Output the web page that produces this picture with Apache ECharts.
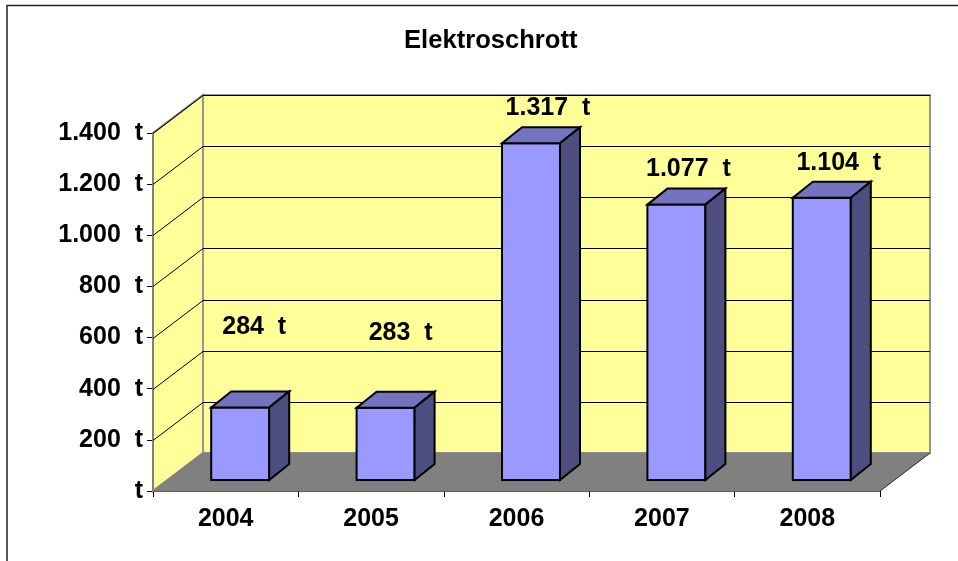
<!DOCTYPE html>
<html>
<head>
<meta charset="utf-8">
<style>
  html, body { margin: 0; padding: 0; background: #fff; }
  #chart { width: 958px; height: 561px; }
</style>
<script src="https://cdn.jsdelivr.net/npm/echarts@6/dist/echarts.min.js"></script>
</head>
<body>
<div id="chart"></div>
<script>
const years = ["2004", "2005", "2006", "2007", "2008"];
const tonnes = [284, 283, 1317, 1077, 1104];
const yTicks = [0, 200, 400, 600, 800, 1000, 1200, 1400];

// pseudo-3d offsets, px
const WALL_DX = 50, WALL_DY = -38;
const BAR_DX = 14.5, BAR_DY = -11;
const BAR_DEPTH_X = 20, BAR_DEPTH_Y = -16;
const BAR_WIDTH = 58;
// the data labels were placed by hand in the original
const LABEL_SHIFT = [[14, -80], [15, -75], [17, -35], [12, -35], [17, -35]];

const FONT = '"Liberation Sans", Arial, sans-serif';
const LABEL_SIZE = 25;

const fmt = (v) => String(v).replace(/\B(?=(\d{3})+$)/g, ".");
const withUnit = (v) => (v === 0 ? "t" : fmt(v) + "  t");

const poly = (points, fill, stroke, lineWidth) => ({
  type: "polygon",
  shape: { points },
  style: { fill, stroke, lineWidth }
});

function renderWalls(params) {
  const cs = params.coordSys;
  const l = cs.x, r = cs.x + cs.width, t = cs.y, b = cs.y + cs.height;
  const dx = WALL_DX, dy = WALL_DY;
  return {
    type: "group",
    children: [
      poly([[l, b], [l + dx, b + dy], [l + dx, t + dy], [l, t]], "#FFFF99", "#808080", 2),
      poly([[l + dx, b + dy], [r + dx, b + dy], [r + dx, t + dy], [l + dx, t + dy]], "#FFFF99", "#969696", 2),
      poly([[l, b], [r, b], [r + dx, b + dy], [l + dx, b + dy]], "#808080", "#808080", 1),
      { type: "line", shape: { x1: r, y1: b, x2: r + dx, y2: b + dy }, style: { stroke: "#333", lineWidth: 1 } }
    ]
  };
}

function renderGridLine(params, api) {
  const cs = params.coordSys;
  const y = Math.round(api.coord([0, api.value(0)])[1]) + 0.5;
  return {
    type: "polyline",
    shape: {
      points: [
        [cs.x, y],
        [cs.x + WALL_DX, y + WALL_DY],
        [cs.x + cs.width + WALL_DX, y + WALL_DY]
      ]
    },
    style: { fill: null, stroke: "#000", lineWidth: 1 }
  };
}

function renderBar(params, api) {
  const i = api.value(0);
  const top = api.coord([i, api.value(1)]);
  const base = api.coord([i, 0]);
  const x0 = top[0] - BAR_WIDTH / 2 + BAR_DX;
  const x1 = x0 + BAR_WIDTH;
  const y0 = top[1] + BAR_DY;
  const y1 = base[1] + BAR_DY;
  const ddx = BAR_DEPTH_X, ddy = BAR_DEPTH_Y;
  const shift = LABEL_SHIFT[params.dataIndex];
  return {
    type: "group",
    children: [
      poly([[x0, y1], [x1, y1], [x1, y0], [x0, y0]], "#9999FF", "#000", 2),
      poly([[x0, y0], [x1, y0], [x1 + ddx, y0 + ddy], [x0 + ddx, y0 + ddy]], "#7373BF", "#000", 2),
      poly([[x1, y1], [x1 + ddx, y1 + ddy], [x1 + ddx, y0 + ddy], [x1, y0]], "#4D4D80", "#000", 2),
      {
        type: "text",
        x: (x0 + x1) / 2 + shift[0],
        y: y0 + shift[1],
        style: {
          text: withUnit(api.value(1)),
          font: "bold " + LABEL_SIZE + "px " + FONT,
          fill: "#000",
          align: "center",
          verticalAlign: "middle"
        }
      }
    ]
  };
}

const chart = echarts.init(document.getElementById("chart"), null, { renderer: "canvas" });

chart.setOption({
  animation: false,
  backgroundColor: "#fff",
  title: {
    text: "Elektroschrott",
    left: 399,
    top: 23,
    textStyle: { fontFamily: FONT, fontWeight: "bold", fontSize: 25.6, color: "#000" }
  },
  graphic: [
    // only the left and top edges of the chart frame are inside the picture
    {
      type: "rect",
      silent: true,
      z: -1,
      shape: { x: 7, y: 5.5, width: 1000, height: 600 },
      style: { fill: "#fff", stroke: "#222", lineWidth: 1.5 }
    }
  ],
  grid: { left: 153, right: 78, top: 133, bottom: 70 },
  xAxis: {
    type: "category",
    data: years,
    boundaryGap: true,
    axisLine: { show: true, lineStyle: { color: "#000", width: 1.5 } },
    axisTick: { show: true, length: 6, lineStyle: { color: "#000" } },
    axisLabel: {
      color: "#000",
      fontFamily: FONT,
      fontWeight: "bold",
      fontSize: LABEL_SIZE,
      margin: 16
    }
  },
  yAxis: {
    type: "value",
    min: yTicks[0],
    max: yTicks[yTicks.length - 1],
    interval: yTicks[1] - yTicks[0],
    splitLine: { show: false },
    axisLine: { show: true, lineStyle: { color: "#666", width: 2 } },
    axisTick: { show: true, length: 6, lineStyle: { color: "#000" } },
    axisLabel: {
      color: "#000",
      fontFamily: FONT,
      fontWeight: "bold",
      fontSize: LABEL_SIZE,
      margin: 10,
      padding: [2, 0, 0, 0],
      formatter: withUnit
    }
  },
  series: [
    {
      type: "custom",
      coordinateSystem: "cartesian2d",
      data: [[0, 0]],
      z: 1,
      silent: true,
      renderItem: renderWalls
    },
    {
      type: "custom",
      coordinateSystem: "cartesian2d",
      data: yTicks.slice(1).map((v) => [v]),
      encode: { y: 0 },
      z: 2,
      silent: true,
      renderItem: renderGridLine
    },
    {
      type: "custom",
      coordinateSystem: "cartesian2d",
      data: tonnes.map((v, i) => [i, v]),
      encode: { x: 0, y: 1 },
      z: 3,
      renderItem: renderBar
    }
  ]
});

window.addEventListener("resize", () => chart.resize());
</script>
</body>
</html>
